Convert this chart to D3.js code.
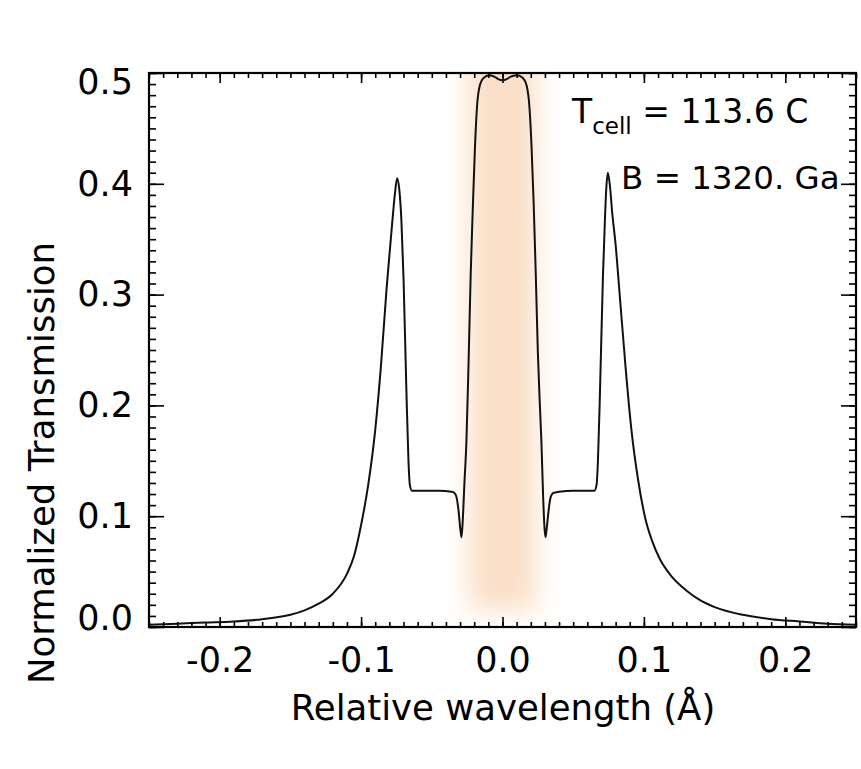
<!DOCTYPE html>
<html>
<head>
<meta charset="utf-8">
<script src="https://cdn.jsdelivr.net/npm/d3@7"></script>
<style>
  html, body { margin: 0; padding: 0; background: #fff; }
  svg { display: block; }
  text { font-family: "DejaVu Sans", "Liberation Sans", sans-serif; fill: #000; }
</style>
</head>
<body>
<svg id="chart" width="861" height="769"></svg>
<script>
// Filter transmission profile versus wavelength offset from line centre
const waveOffset = [
  -0.25, -0.23, -0.21, -0.19, -0.17, -0.15, -0.14, -0.13, -0.12, -0.11,
  -0.105, -0.10, -0.095, -0.09, -0.086, -0.082, -0.079, -0.0775, -0.076, -0.0745,
  -0.073, -0.0715, -0.070, -0.068, -0.0665, -0.0655, -0.064, -0.055, -0.045, -0.036,
  -0.034, -0.0325, -0.031, -0.0298, -0.029, -0.0282, -0.027, -0.0255, -0.024, -0.0225,
  -0.021, -0.0195, -0.018, -0.016, -0.013, -0.009, -0.0055, -0.003, 0.0, 0.003,
  0.0055, 0.010, 0.014, 0.017, 0.019, 0.0205, 0.022, 0.0235, 0.025, 0.0265,
  0.0275, 0.0288, 0.0304, 0.0312, 0.0325, 0.034, 0.036, 0.040, 0.050, 0.060,
  0.065, 0.0665, 0.0675, 0.069, 0.071, 0.0725, 0.0735, 0.0745, 0.076, 0.0775,
  0.080, 0.083, 0.087, 0.091, 0.096, 0.101, 0.106, 0.111, 0.12, 0.13,
  0.14, 0.15, 0.17, 0.19, 0.21, 0.23, 0.25
];
const transmission = [
  0.002, 0.003, 0.004, 0.005, 0.007, 0.011, 0.015, 0.021, 0.030, 0.048,
  0.064, 0.092, 0.128, 0.178, 0.235, 0.305, 0.350, 0.372, 0.392, 0.405,
  0.395, 0.367, 0.315, 0.215, 0.150, 0.128, 0.123, 0.123, 0.123, 0.122,
  0.121, 0.117, 0.104, 0.088, 0.081, 0.094, 0.128, 0.168, 0.238, 0.318,
  0.378, 0.432, 0.470, 0.489, 0.496, 0.498, 0.4965, 0.4945, 0.4935, 0.4945,
  0.4965, 0.498, 0.496, 0.489, 0.470, 0.435, 0.384, 0.320, 0.248, 0.198,
  0.168, 0.115, 0.081, 0.088, 0.104, 0.117, 0.121, 0.122, 0.123, 0.123,
  0.123, 0.128, 0.150, 0.215, 0.315, 0.370, 0.398, 0.410, 0.398, 0.375,
  0.345, 0.298, 0.235, 0.180, 0.132, 0.098, 0.077, 0.062, 0.045, 0.033,
  0.024, 0.018, 0.011, 0.007, 0.005, 0.003, 0.002
];

// Axis ticks and labels
const xTickValues = [-0.2, -0.1, 0.0, 0.1, 0.2];
const xTickLabels = ["-0.2", "-0.1", "0.0", "0.1", "0.2"];
const yTickValues = [0.0, 0.1, 0.2, 0.3, 0.4, 0.5];
const yTickLabels = ["0.0", "0.1", "0.2", "0.3", "0.4", "0.5"];

// Shaded passband around line centre
const bandRange = [-0.024, 0.024];
const bandTop = 0.56, bandBottom = 0.015;

// Annotations
const cellLabel = { main: "T", sub: "cell", rest: " = 113.6 C" };
const fieldLabel = "B = 1320. Ga";
const xTitle = "Relative wavelength (Å)";
const yTitle = "Normalized Transmission";

const svg = d3.select("#chart");
const W = 861, H = 769;
const plot = { left: 149, right: 856, top: 73, bottom: 627 };

svg.append("rect").attr("width", W).attr("height", H).attr("fill", "#fff");

const x = d3.scaleLinear().domain([-0.25, 0.25]).range([plot.left, plot.right]);
const y = d3.scaleLinear().domain([0, 0.5]).range([plot.bottom, plot.top]);

const defs = svg.append("defs");
defs.append("clipPath").attr("id", "plotClip")
  .append("rect")
  .attr("x", plot.left).attr("y", plot.top)
  .attr("width", plot.right - plot.left).attr("height", plot.bottom - plot.top);
defs.append("clipPath").attr("id", "curveClip")
  .append("rect")
  .attr("x", plot.left).attr("y", plot.top - 2)
  .attr("width", plot.right - plot.left).attr("height", plot.bottom - plot.top + 2);
const blur = defs.append("filter").attr("id", "soft")
  .attr("x", "-150%").attr("y", "-20%").attr("width", "400%").attr("height", "140%");
blur.append("feGaussianBlur").attr("stdDeviation", 13);

// Passband shading
svg.append("g").attr("clip-path", "url(#plotClip)")
  .append("rect")
  .attr("x", x(bandRange[0]))
  .attr("width", x(bandRange[1]) - x(bandRange[0]))
  .attr("y", y(bandTop))
  .attr("height", y(bandBottom) - y(bandTop))
  .attr("fill", "#f8d3b2")
  .attr("opacity", 0.72)
  .attr("filter", "url(#soft)");

// Profile curve
const points = waveOffset.map((w, i) => [w, transmission[i]]);
const line = d3.line()
  .x(d => x(d[0]))
  .y(d => y(d[1]))
  .curve(d3.curveMonotoneX);

svg.append("g").attr("clip-path", "url(#curveClip)")
  .append("path")
  .datum(points)
  .attr("d", line)
  .attr("fill", "none")
  .attr("stroke", "#111")
  .attr("stroke-width", 2)
  .attr("stroke-linejoin", "round");

// Axes: major and minor ticks on all four sides, pointing inward
const xMinor = d3.range(-25, 26).map(v => v / 100);
const yMinor = d3.range(0, 51).map(v => v / 100);

function styleAxis(g) {
  g.select(".domain").remove();
  g.selectAll(".tick line").attr("stroke", "#000").attr("stroke-width", 1.6);
}

svg.append("g").attr("transform", `translate(0,${plot.bottom})`)
  .call(d3.axisBottom(x).tickValues(xMinor).tickSize(-5).tickSizeOuter(0).tickFormat(""))
  .call(styleAxis);
svg.append("g").attr("transform", `translate(0,${plot.top})`)
  .call(d3.axisTop(x).tickValues(xMinor).tickSize(-5).tickSizeOuter(0).tickFormat(""))
  .call(styleAxis);
svg.append("g").attr("transform", `translate(${plot.left},0)`)
  .call(d3.axisLeft(y).tickValues(yMinor).tickSize(-7).tickSizeOuter(0).tickFormat(""))
  .call(styleAxis);
svg.append("g").attr("transform", `translate(${plot.right},0)`)
  .call(d3.axisRight(y).tickValues(yMinor).tickSize(-7).tickSizeOuter(0).tickFormat(""))
  .call(styleAxis);

const xAxisB = svg.append("g").attr("transform", `translate(0,${plot.bottom})`)
  .call(d3.axisBottom(x).tickValues(xTickValues).tickSize(-10).tickSizeOuter(0)
    .tickPadding(20).tickFormat((d, i) => xTickLabels[i]))
  .call(styleAxis);
xAxisB.selectAll(".tick text").attr("font-size", 35).attr("font-family", null);

svg.append("g").attr("transform", `translate(0,${plot.top})`)
  .call(d3.axisTop(x).tickValues(xTickValues).tickSize(-10).tickSizeOuter(0).tickFormat(""))
  .call(styleAxis);

const yAxisL = svg.append("g").attr("transform", `translate(${plot.left},0)`)
  .call(d3.axisLeft(y).tickValues(yTickValues).tickSize(-15).tickSizeOuter(0)
    .tickPadding(16).tickFormat((d, i) => yTickLabels[i]))
  .call(styleAxis);
// keep the end labels inside the frame's height
yAxisL.selectAll(".tick text")
  .attr("font-size", 35).attr("font-family", null)
  .attr("y", d => d === 0.5 ? 9 : (d === 0 ? -9 : 0));

svg.append("g").attr("transform", `translate(${plot.right},0)`)
  .call(d3.axisRight(y).tickValues(yTickValues).tickSize(-15).tickSizeOuter(0).tickFormat(""))
  .call(styleAxis);

// Frame
svg.append("rect")
  .attr("x", plot.left).attr("y", plot.top)
  .attr("width", plot.right - plot.left).attr("height", plot.bottom - plot.top)
  .attr("fill", "none").attr("stroke", "#000").attr("stroke-width", 2.2);

// Axis titles
svg.append("text")
  .attr("x", 503)
  .attr("y", 720)
  .attr("text-anchor", "middle")
  .attr("font-size", 35.5)
  .text(xTitle);

svg.append("text")
  .attr("transform", "translate(54,463) rotate(-90)")
  .attr("text-anchor", "middle")
  .attr("font-size", 35.5)
  .text(yTitle);

// Cell temperature and field annotations
const tLabel = svg.append("text").attr("x", 572).attr("y", 123).attr("font-size", 33);
tLabel.append("tspan").text(cellLabel.main);
tLabel.append("tspan").attr("font-size", 23).attr("dy", 11).text(cellLabel.sub);
tLabel.append("tspan").attr("dy", -11).text(cellLabel.rest);

svg.append("text").attr("x", 621).attr("y", 189).attr("font-size", 32.5).text(fieldLabel);
</script>
</body>
</html>
